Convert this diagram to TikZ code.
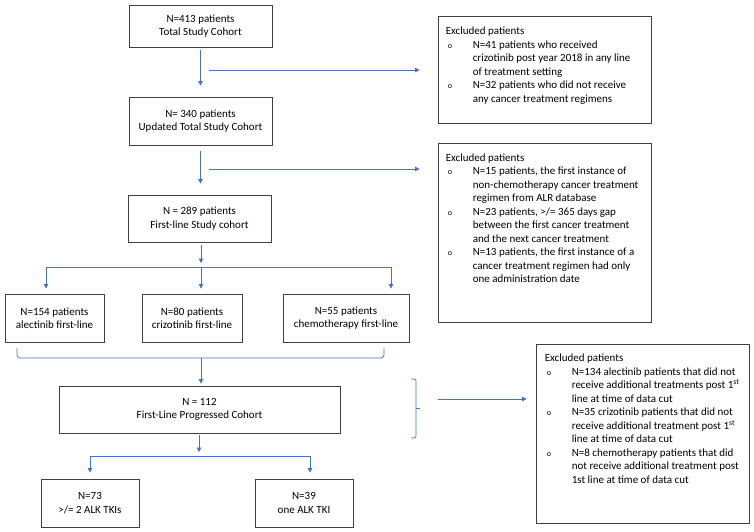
\documentclass[tikz,border=0pt]{standalone}
\usepackage{fontspec}
\setmainfont{Carlito}
\usetikzlibrary{arrows.meta,calc}
\definecolor{arrowblue}{HTML}{4472C4}
\definecolor{boxgray}{HTML}{404040}
\newcommand{\exbullet}{\hspace{2pt}{\fontsize{8}{8}\selectfont o}}
\tikzset{
 box/.style={draw=boxgray, line width=0.8pt, align=center, inner sep=0pt, font=\fontsize{11}{13.5}\selectfont},
 exbox/.style={draw=boxgray, line width=0.8pt, minimum width=213pt, inner sep=0pt},
 conn/.style={draw=arrowblue, line width=0.7pt},
 arr/.style={conn, -{Triangle[length=4.5pt,width=4.5pt]}},
 extext/.style={anchor=north west, inner sep=0pt, font=\fontsize{11}{13.5}\selectfont},
}
\begin{document}
\begin{tikzpicture}[x=1pt,y=-1pt]
\useasboundingbox (0,0) rectangle (754,532);
% main boxes
\node[box, minimum width=143pt, minimum height=42pt] (b1) at (200.5,26) {N=413 patients\\Total Study Cohort};
\node[box, minimum width=143pt, minimum height=48pt] (b2) at (200.5,121) {N= 340 patients\\Updated Total Study Cohort};
\node[box, minimum width=143pt, minimum height=47pt] (b3) at (199.5,218.5) {N = 289 patients\\First-line Study cohort};
\node[box, minimum width=99pt, minimum height=48pt] (alec) at (54.5,318) {N=154 patients\\alectinib first-line};
\node[box, minimum width=100pt, minimum height=48pt] (criz) at (192,318) {N=80 patients\\crizotinib first-line};
\node[box, minimum width=126pt, minimum height=48pt] (chemo) at (346,318) {N=55 patients\\chemotherapy first-line};
\node[box, minimum width=281pt, minimum height=47pt] (prog) at (199.5,409.5) {N = 112\\First-Line Progressed Cohort};
\node[box, minimum width=98pt, minimum height=48pt] (tki2) at (90,503) {N=73\\>/= 2 ALK TKIs};
\node[box, minimum width=98pt, minimum height=48pt] (tki1) at (304,503) {N=39\\one ALK TKI};
% exclusion boxes
\node[exbox, minimum height=107pt] (ex1) at (544.5,69.5) {};
\node[exbox, minimum height=179pt] (ex2) at (544.5,232.5) {};
\node[exbox, minimum height=179pt] (ex3) at (642.5,433.5) {};
\node[extext] (t1) at ($(ex1.north west)+(8,9.5)$) {\begin{tabular}{@{}p{27pt}@{}l@{}}
\multicolumn{2}{@{}l@{}}{Excluded patients}\\
\exbullet & N=41 patients who received\\
 & crizotinib post year 2018 in any line\\
 & of treatment setting\\
\exbullet & N=32 patients who did not receive\\
 & any cancer treatment regimens
\end{tabular}};
\node[extext] (t2) at ($(ex2.north west)+(8,9)$) {\begin{tabular}{@{}p{27pt}@{}l@{}}
\multicolumn{2}{@{}l@{}}{Excluded patients}\\
\exbullet & N=15 patients, the first instance of\\
 & non-chemotherapy cancer treatment\\
 & regimen from ALR database\\
\exbullet & N=23 patients, >/= 365 days gap\\
 & between the first cancer treatment\\
 & and the next cancer treatment\\
\exbullet & N=13 patients, the first instance of a\\
 & cancer treatment regimen had only\\
 & one administration date
\end{tabular}};
\node[extext] (t3) at ($(ex3.north west)+(9,8.5)$) {\begin{tabular}{@{}p{27pt}@{}l@{}}
\multicolumn{2}{@{}l@{}}{Excluded patients}\\
\exbullet & N=134 alectinib patients that did not\\
 & receive additional treatments post 1\textsuperscript{st}\\
 & line at time of data cut\\
\exbullet & N=35 crizotinib patients that did not\\
 & receive additional treatment post 1\textsuperscript{st}\\
 & line at time of data cut\\
\exbullet & N=8 chemotherapy patients that did\\
 & not receive additional treatment post\\
 & 1st line at time of data cut
\end{tabular}};
% vertical flow
\draw[arr, shorten <=3pt, shorten >=11pt] (b1.south) -- (b1.south |- b2.north);
\draw[arr, shorten <=6pt, shorten >=11pt] (b2.south) -- (b2.south |- b3.north);
\coordinate (h1) at (209,70);
\coordinate (h2) at (209,169);
\draw[arr, shorten >=18pt] (h1) -- (h1 -| ex1.west);
\draw[arr, shorten >=18pt] (h2) -- (h2 -| ex2.west);
% split to three
\coordinate (sp) at (201,267);
\draw[arr, shorten <=3pt, shorten >=4pt] (b3.south -| sp) -- (sp);
\coordinate (s1) at (46,267);
\coordinate (s3) at (391,267);
\draw[conn] (s1) -- (s3);
\draw[arr, shorten >=5pt] (s1) -- (s1 |- alec.north);
\draw[arr, shorten >=5pt] (sp) -- (sp |- criz.north);
\draw[arr, shorten >=5pt] (s3) -- (s3 |- chemo.north);
% brace under three
\draw[conn, rounded corners=3pt] (17,348) -- (17,358) -- (384,358) -- (384,348);
\coordinate (bc) at (201,358);
\draw[arr, shorten >=2pt] (bc) -- (bc |- prog.north);
% split to two
\coordinate (sq) at (199,456);
\draw[arr, shorten <=2pt, shorten >=4pt] (prog.south -| sq) -- (sq);
\coordinate (q1) at (90,456);
\coordinate (q2) at (310,456);
\draw[conn] (q1) -- (q2);
\draw[arr, shorten >=6pt] (q1) -- (q1 |- tki2.north);
\draw[arr, shorten >=6pt] (q2) -- (q2 |- tki1.north);
% right brace
\draw[conn, rounded corners=2pt] (411,379) -- (416,379) -- (416,438) -- (411,438);
\draw[conn] (416,408) -- (420,408);
\coordinate (h3) at (438,399);
\draw[arr, shorten >=9pt] (h3) -- (h3 -| ex3.west);
\end{tikzpicture}
\end{document}
